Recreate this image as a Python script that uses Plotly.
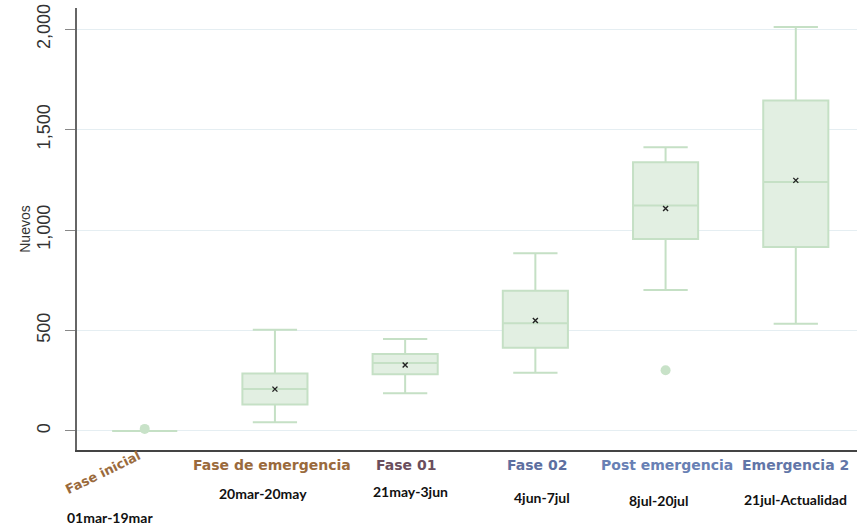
import plotly.graph_objects as go

categories = ["Fase inicial", "Fase de emergencia", "Fase 01", "Fase 02", "Post emergencia", "Emergencia 2"]
periods = ["01mar-19mar", "20mar-20may", "21may-3jun", "4jun-7jul", "8jul-20jul", "21jul-Actualidad"]
lower_whisker = [0, 43, 187, 290, 701, 533]
q1_vals = [0, 132, 282, 414, 955, 916]
median_vals = [0, 208, 338, 536, 1122, 1239]
q3_vals = [0, 286, 383, 698, 1337, 1645]
upper_whisker = [0, 503, 457, 884, 1412, 2010]
mean_vals = [None, 208, 328, 549, 1107, 1247]
outlier_cats = ["Fase inicial", "Post emergencia"]
outlier_vals = [10, 302]
y_ticks = [0, 500, 1000, 1500, 2000]

label_colors = ["#9a6a3c", "#9a6a3c", "#6a4e5c", "#5d6fa0", "#6880b4", "#6276a8"]

line_green = "rgb(197,224,197)"
fill_green = "rgb(226,239,226)"

fig = go.Figure()
fig.add_trace(go.Box(
    x=categories,
    q1=q1_vals, median=median_vals, q3=q3_vals,
    lowerfence=lower_whisker, upperfence=upper_whisker,
    fillcolor=fill_green,
    line=dict(color=line_green, width=2),
    width=0.5, whiskerwidth=0.68,
    boxpoints=False, showlegend=False, hoverinfo="skip",
))
fig.add_trace(go.Scatter(
    x=outlier_cats, y=outlier_vals, mode="markers",
    marker=dict(color="rgb(200,226,200)", size=10),
    showlegend=False, hoverinfo="skip",
))
fig.add_trace(go.Scatter(
    x=categories, y=mean_vals, mode="markers",
    marker=dict(symbol="x-thin", size=5, line=dict(color="#222", width=1.4)),
    showlegend=False, hoverinfo="skip",
))

# category labels (pixel offsets from the category centre / bottom of plot)
label_shift_x = [-42, -3, 1, 2, 1, 0]
label_shift_y = [-22, -15, -15, -15, -15, -15]
for i, (c, col) in enumerate(zip(categories, label_colors)):
    fig.add_annotation(x=c, y=0, xref="x", yref="paper", text=c, showarrow=False,
                       xanchor="center", yanchor="middle",
                       textangle=-26 if i == 0 else 0,
                       xshift=label_shift_x[i], yshift=label_shift_y[i],
                       font=dict(family="DejaVu Sans", size=14 if i else 13, color=col, weight="bold"))

period_xshift = [-35, -12, 5, 7, -7, 0]
period_yshift = [-67, -43, -41, -47, -50, -49]
for c, p, dx, dy in zip(categories, periods, period_xshift, period_yshift):
    fig.add_annotation(x=c, y=0, xref="x", yref="paper", text=p, showarrow=False,
                       xanchor="center", yanchor="middle",
                       xshift=dx, yshift=dy,
                       font=dict(family="Lato", size=14, color="#111", weight="bold"))

fig.update_layout(
    width=857, height=525,
    margin=dict(l=77, r=0, t=8, b=75),
    paper_bgcolor="white", plot_bgcolor="white",
    font=dict(family="Liberation Sans", size=12, color="#333"),
)
fig.update_xaxes(
    type="category", categoryorder="array", categoryarray=categories,
    range=[-0.52, 5.47], showticklabels=False, showgrid=False, automargin=False,
    showline=True, linecolor="#444", linewidth=2, ticks="", zeroline=False,
)
fig.update_yaxes(
    range=[-95, 2105], tickvals=y_ticks, tickformat=",", tickangle=-90,
    showgrid=True, gridcolor="#e5eef2", gridwidth=1, automargin=False,
    showline=True, linecolor="#666", linewidth=1.5,
    ticks="outside", ticklen=10, tickcolor="#888", zeroline=False,
    ticklabelstandoff=8,
    title=dict(text="Nuevos", font=dict(size=14, color="#333"), standoff=0),
    tickfont=dict(size=18, color="#333"),
)

fig.write_html("out.html", config={"displayModeBar": False},
               post_script="document.body.style.margin='0';document.body.style.padding='0';")
